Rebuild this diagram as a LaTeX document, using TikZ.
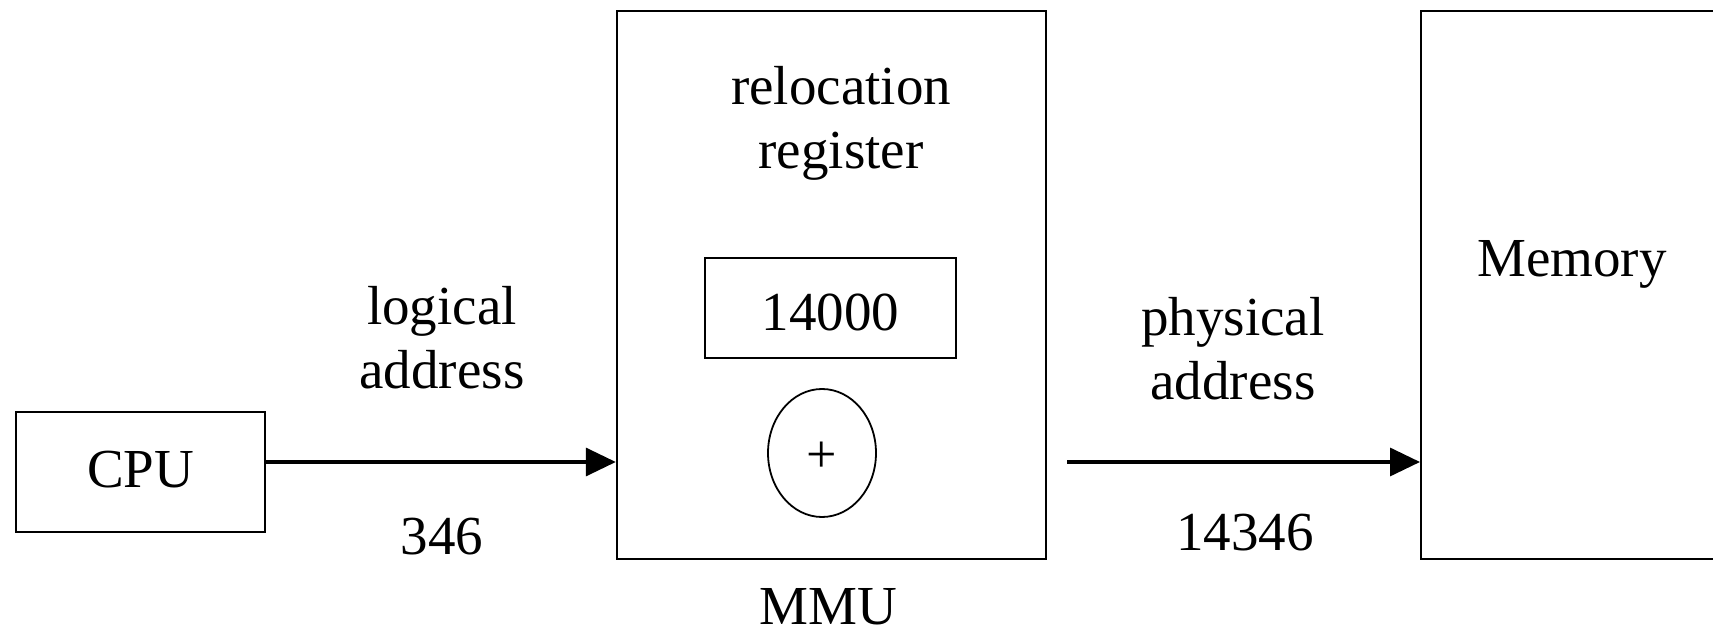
\documentclass[tikz,border=0pt]{standalone}
\usepackage{fontspec}
\setmainfont{Liberation Serif}
\usetikzlibrary{arrows.meta,shapes.geometric}
\begin{document}
\begin{tikzpicture}[x=0.5pt,y=-0.5pt,
  box/.style={draw, line width=1.2pt, inner sep=0pt},
  lbl/.style={font=\fontsize{27.5pt}{30pt}\selectfont, align=center, inner sep=0pt},
  arr/.style={line width=1.7pt, -{Triangle[length=15pt,width=14pt]}}]
\clip (0,0) rectangle (1713,640);
\fill[white] (0,0) rectangle (1713,640);
\node[box, minimum width=124.5pt, minimum height=60pt] (cpu) at (140.5,472) {};
\node[lbl] (cputxt) at (140.5,470) {CPU};
\node[box, minimum width=214.5pt, minimum height=274pt] (mmu) at (831.5,285) {};
\node[lbl] (reloc) at (841,123) {relocation\\[2pt]register};
\node[box, minimum width=125.5pt, minimum height=50pt] (reg) at (830.5,308) {};
\node[lbl] (regtxt) at (830.5,312) {14000};
\node[draw, line width=0.9pt, ellipse, minimum width=54pt, minimum height=64pt, inner sep=0pt] (add) at (822,453) {};
\node[font=\fontsize{27pt}{27pt}\selectfont, inner sep=0pt] (plus) at (822,457) {+};
\node[lbl] (mmulbl) at (828,607) {MMU};
\node[box, minimum width=250pt, minimum height=274pt, anchor=west] (mem) at (1420,285) {};
\node[lbl] (memtxt) at (1572,264) {Memory};
\node[lbl] (logical) at (442,338) {logical\\[2pt]address};
\node[lbl] (n346) at (442,537) {346};
\node[lbl] (physical) at (1233,349) {physical\\[2pt]address};
\node[lbl] (n14346) at (1245,533) {14346};
\draw[arr] ([yshift=5pt]cpu.east) -- ([yshift=5pt]cpu.east -| mmu.west);
\coordinate (pa) at (1067,462);
\draw[arr] (pa) -- (pa -| mem.west);
\end{tikzpicture}
\end{document}
